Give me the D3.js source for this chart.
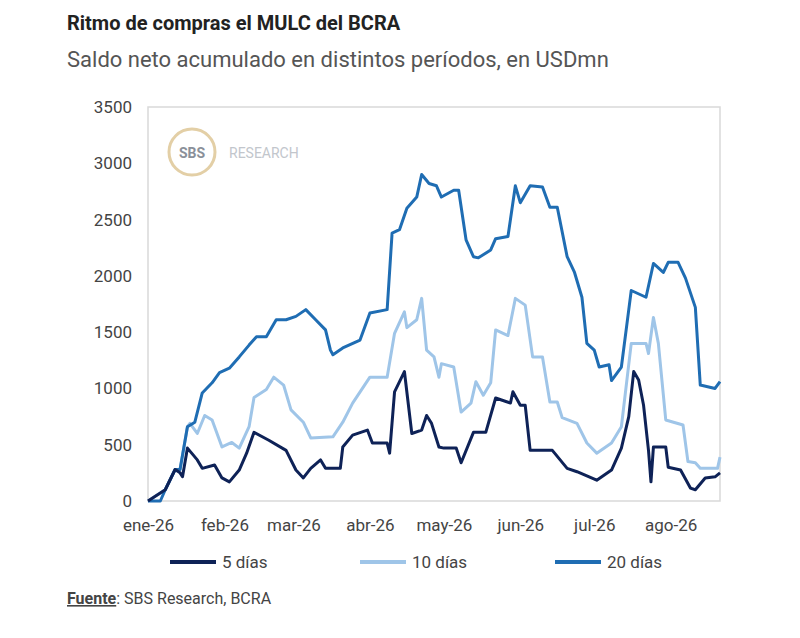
<!DOCTYPE html>
<html>
<head>
<meta charset="utf-8">
<script src="https://cdn.jsdelivr.net/npm/d3@7"></script>
<style>
	body { margin: 0; background: #fff; font-family: Roboto, "Noto Sans", sans-serif; }
</style>
</head>
<body>
<svg id="chart" width="800" height="638"></svg>
<script>
// days since 1 Jan 2026, values in USDmn
const days5 = [0,7,11,13,14,16,20,22,27,30,33,37,40,43,49,56,60,63,66,70,72,78,79,83,89,91,97,98,100,104,107,111,113,115,118,120,125,127,132,137,141,147,148,151,153,155,164,170,174,182,188,192,195,197,199,201,203,204,205,210,211,216,220,222,226,230,232];
const vals5 = [0,100,280,250,215,470,365,290,320,205,170,275,425,610,540,450,275,205,290,365,290,290,480,585,630,515,515,425,970,1150,600,630,760,690,480,470,470,340,610,610,915,870,970,850,850,450,450,290,260,185,275,470,750,1150,1075,850,450,170,480,480,300,275,115,100,205,215,250];
const days10 = [0,7,11,13,16,17,20,23,26,30,34,37,41,43,48,51,55,58,63,66,75,79,83,90,97,100,104,105,109,111,113,116,118,119,124,127,131,133,136,139,141,146,149,153,156,160,163,166,168,174,178,182,188,192,196,202,203,205,207,210,217,219,222,224,231,232];
const vals10 = [0,100,280,280,660,690,600,760,720,480,520,470,660,920,990,1100,1030,810,700,560,570,700,870,1100,1100,1490,1680,1540,1610,1800,1340,1280,1100,1220,1190,790,870,1060,940,1050,1520,1470,1800,1740,1280,1280,880,880,740,690,515,425,515,660,1400,1400,1310,1630,1400,720,675,350,340,290,290,390];
const days20 = [0,5,7,11,13,16,19,22,26,29,33,37,41,44,48,52,56,60,64,68,72,74,75,79,86,90,97,99,102,105,109,111,114,117,119,124,126,129,132,134,139,141,146,149,151,155,160,163,166,170,173,176,178,181,183,187,188,192,195,196,202,205,209,211,215,218,222,224,230,232];
const vals20 = [0,0,100,280,280,660,700,960,1050,1140,1180,1280,1385,1460,1460,1610,1610,1640,1700,1610,1520,1340,1300,1360,1430,1670,1700,2380,2410,2600,2700,2900,2820,2800,2700,2760,2760,2320,2170,2160,2230,2330,2350,2800,2650,2800,2790,2610,2610,2170,2030,1810,1400,1340,1190,1210,1070,1190,1700,1870,1810,2110,2030,2120,2120,1980,1720,1030,1000,1060];

const monthDays = [0,31,59,90,120,151,181,212];
const monthLabels = ['ene-26','feb-26','mar-26','abr-26','may-26','jun-26','jul-26','ago-26'];
const yTicks = [0,500,1000,1500,2000,2500,3000,3500];

const series = [
	{ name: '10 días', days: days10, vals: vals10, color: '#9fc5e8' },
	{ name: '20 días', days: days20, vals: vals20, color: '#1f6db3' },
	{ name: '5 días', days: days5, vals: vals5, color: '#0e2257' }
];

const svg = d3.select('#chart');
const plotLeft = 148, plotRight = 720, plotTop = 107, plotBottom = 501;

const x = d3.scaleLinear().domain([0, 232]).range([plotLeft, plotRight]);
const y = d3.scaleLinear().domain([0, 3500]).range([plotBottom, plotTop]);

// titles
svg.append('text').attr('x', 67).attr('y', 30)
	.style('font-size', '20px').style('font-weight', 'bold').style('fill', '#222')
	.text('Ritmo de compras el MULC del BCRA');
svg.append('text').attr('x', 67).attr('y', 67)
	.style('font-size', '22px').style('fill', '#555')
	.text('Saldo neto acumulado en distintos períodos, en USDmn');

// frame
svg.append('rect').attr('x', plotLeft).attr('y', plotTop)
	.attr('width', plotRight - plotLeft).attr('height', plotBottom - plotTop)
	.attr('fill', 'none').attr('stroke', '#d9d9d9').attr('stroke-width', 1.5);

// logo
svg.append('circle').attr('cx', 192).attr('cy', 152).attr('r', 23)
	.attr('fill', 'none').attr('stroke', '#e3cfa6').attr('stroke-width', 3);
svg.append('text').attr('x', 192).attr('y', 158).attr('text-anchor', 'middle')
	.style('font-size', '14px').style('font-weight', 'bold').style('fill', '#8a9099')
	.text('SBS');
svg.append('text').attr('x', 229).attr('y', 158)
	.style('font-size', '14px').style('fill', '#c2c6cc')
	.text('RESEARCH');

// y axis
const yAxis = svg.append('g').attr('transform', `translate(${plotLeft - 16},0)`)
	.call(d3.axisLeft(y).tickValues(yTicks).tickSize(0).tickPadding(0).tickFormat(d3.format('d')));
yAxis.select('.domain').remove();
yAxis.selectAll('text').style('font-size', '17px').style('fill', '#444')
	.style('font-family', 'Roboto, sans-serif');

// x axis
const xAxis = svg.append('g').attr('transform', `translate(0,${plotBottom + 14})`)
	.call(d3.axisBottom(x).tickValues(monthDays).tickSize(0).tickPadding(4)
		.tickFormat((d, i) => monthLabels[i]));
xAxis.select('.domain').remove();
xAxis.selectAll('text').style('font-size', '17px').style('fill', '#444')
	.style('font-family', 'Roboto, sans-serif');

// lines
const line = d3.line().x(d => x(d[0])).y(d => y(d[1]));
series.forEach((s) => {
	svg.append('path')
		.datum(s.days.map((d, i) => [d, s.vals[i]]))
		.attr('d', line)
		.attr('fill', 'none')
		.attr('stroke', s.color)
		.attr('stroke-width', 3)
		.attr('stroke-linejoin', 'round');
});

// legend
const legend = [
	{ name: '5 días', color: '#0e2257', x: 170 },
	{ name: '10 días', color: '#9fc5e8', x: 360 },
	{ name: '20 días', color: '#1f6db3', x: 555 }
];
legend.forEach((l) => {
	svg.append('line').attr('x1', l.x).attr('x2', l.x + 46)
		.attr('y1', 562).attr('y2', 562)
		.attr('stroke', l.color).attr('stroke-width', 4);
	svg.append('text').attr('x', l.x + 52).attr('y', 568)
		.style('font-size', '17px').style('fill', '#444')
		.text(l.name);
});

// source
const src = svg.append('text').attr('x', 67).attr('y', 604)
	.style('font-size', '16px').style('fill', '#444');
src.append('tspan').style('font-weight', 'bold').style('text-decoration', 'underline')
	.text('Fuente');
src.append('tspan').text(': SBS Research, BCRA');
</script>
</body>
</html>
